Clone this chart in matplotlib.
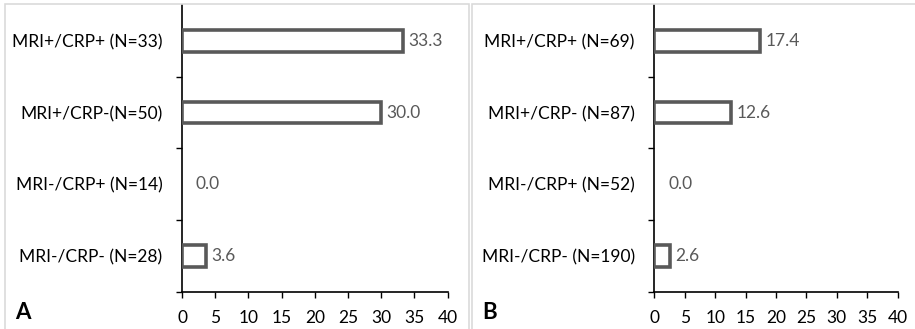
import matplotlib
matplotlib.use("Agg")
import matplotlib.pyplot as plt
from matplotlib.patches import Rectangle

categories_a = ["MRI+/CRP+ (N=33)", "MRI+/CRP-(N=50)", "MRI-/CRP+ (N=14)", "MRI-/CRP- (N=28)"]
values_a = [33.3, 30.0, 0.0, 3.6]
categories_b = ["MRI+/CRP+ (N=69)", "MRI+/CRP- (N=87)", "MRI-/CRP+ (N=52)", "MRI-/CRP- (N=190)"]
values_b = [17.4, 12.6, 0.0, 2.6]
xticks = [0, 5, 10, 15, 20, 25, 30, 35, 40]
panel_labels = ["A", "B"]

W, H = 915, 329
fig = plt.figure(figsize=(W / 100, H / 100), dpi=100)
plt.rcParams['font.family'] = ['Lato', 'DejaVu Sans']

FS = 12.5
EDGE = '#595959'
px = 72 / 100

# panel borders
for (x0, x1) in [(5, 469), (472, 930)]:
    fig.patches.append(Rectangle((x0 / W, -0.1), (x1 - x0) / W, (H - 4) / H + 0.1,
                                 transform=fig.transFigure, fill=False,
                                 edgecolor='#d9d9d9', linewidth=1.6 * px, zorder=0))

def panel(left, right, cats, vals, lab, labx):
    bottom = (H - 291.7) / H
    top = (H - 5) / H
    ax = fig.add_axes([left / W, bottom, (right - left) / W, top - bottom])
    ax.set_facecolor('none')
    n = len(cats)
    ys = list(range(n - 1, -1, -1))
    for y, v in zip(ys, vals):
        if v > 0:
            ax.barh(y, v, height=0.30, facecolor='white', edgecolor=EDGE,
                    linewidth=3.6 * px, zorder=3)
        ax.annotate(f"{v:.1f}", (v, y), xytext=(4 if v > 0 else 10, 0),
                    textcoords='offset points', va='center', ha='left',
                    fontsize=FS, color=EDGE)
    ax.set_xlim(0, 40)
    ax.set_ylim(-0.5, n - 0.5)
    ax.set_xticks(xticks)
    ax.set_xticklabels([str(t) for t in xticks], fontsize=FS)
    ax.set_yticks(ys)
    ax.set_yticklabels(cats, fontsize=FS)
    ax.tick_params(axis='y', which='major', length=0, pad=14)
    ax.set_yticks([i + 0.5 for i in range(-1, n - 1)], minor=True)
    ax.tick_params(axis='y', which='minor', length=4, width=1, direction='out')
    ax.tick_params(axis='x', length=4, width=1, direction='out', pad=9)
    for s in ['top', 'right']:
        ax.spines[s].set_visible(False)
    for s in ['left', 'bottom']:
        ax.spines[s].set_linewidth(1.2)
    fig.text(labx / W, (H - 319) / H, lab, fontsize=16, fontweight='bold',
             ha='left', va='baseline')
    return ax

panel(182, 447.6, categories_a, values_a, panel_labels[0], 15)
panel(654.3, 897.7, categories_b, values_b, panel_labels[1], 482)

fig.savefig("out.png", dpi=100)
